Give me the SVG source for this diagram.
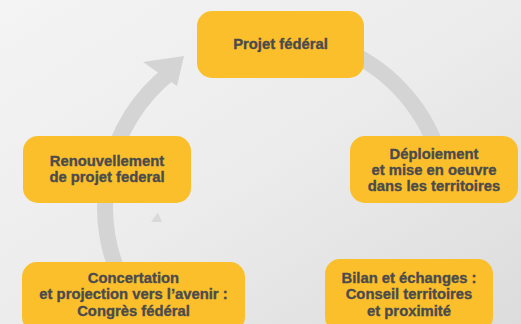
<svg xmlns="http://www.w3.org/2000/svg" width="521" height="324" viewBox="0 0 521 324">
  <defs>
    <linearGradient id="bg" x1="0" y1="0" x2="1" y2="1">
      <stop offset="0" stop-color="#f4f4f4"/>
      <stop offset="0.5" stop-color="#ececec"/>
      <stop offset="1" stop-color="#dcdcdc"/>
    </linearGradient>
  </defs>
  <style>
    .node rect { fill: #fbbf2b; }
    .node text { font-family: "Liberation Sans", Arial, sans-serif; font-weight: bold; font-size: 14.8px; fill: #4b4b4d; stroke: #4b4b4d; stroke-width: 0.35; text-anchor: middle; }
    .ring { fill: none; stroke: #d4d4d4; stroke-width: 16; stroke-linecap: butt; }
    .head { fill: #d4d4d4; }
  </style>
  <rect x="0" y="0" width="521" height="324" fill="url(#bg)"/>
  <polygon points="158,212.5 151,222 162,222" fill="#d9d9d9"/>

  <g id="connectors">
    <path class="ring" d="M 126.4 289.9 A 171 171 0 0 1 170.7 72.3"/>
    <polygon class="head" points="184,56 143,62 177,86"/>
    <path class="ring" d="M 355 55 A 171 171 0 0 1 443 170"/>
  </g>

  <g id="node-projet" class="node">
    <rect x="197" y="11" width="167" height="67" rx="15"/>
    <text x="280.5" y="49">Projet fédéral</text>
  </g>

  <g id="node-renouvellement" class="node">
    <rect x="23" y="136" width="168" height="67" rx="15"/>
    <text x="107" y="166">Renouvellement</text>
    <text x="107" y="182">de projet federal</text>
  </g>

  <g id="node-deploiement" class="node">
    <rect x="350" y="136" width="168" height="67" rx="15"/>
    <text x="434" y="158.5">Déploiement</text>
    <text x="434" y="174.5">et mise en oeuvre</text>
    <text x="434" y="191">dans les territoires</text>
  </g>

  <g id="node-concertation" class="node">
    <rect x="22" y="262" width="223" height="70" rx="15"/>
    <text x="133.5" y="282.5">Concertation</text>
    <text x="133.5" y="299">et projection vers l’avenir :</text>
    <text x="133.5" y="315.5">Congrès fédéral</text>
  </g>

  <g id="node-bilan" class="node">
    <rect x="325" y="259" width="168" height="73" rx="15"/>
    <text x="409" y="282.5">Bilan et échanges :</text>
    <text x="409" y="299">Conseil territoires</text>
    <text x="409" y="315.5">et proximité</text>
  </g>
</svg>
